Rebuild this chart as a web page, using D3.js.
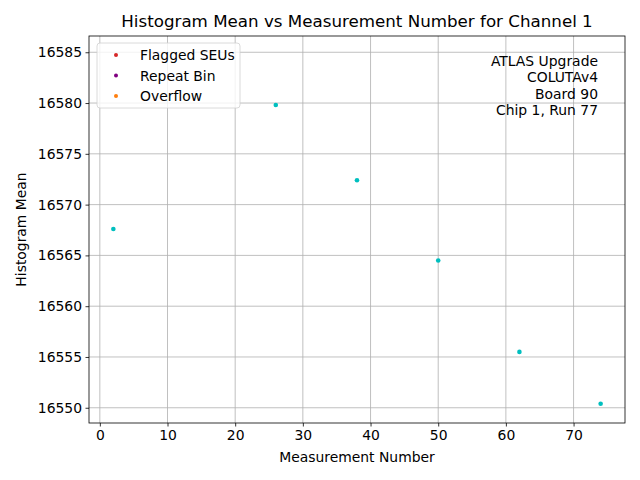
<!DOCTYPE html>
<html><head><meta charset="utf-8">
<script src="https://cdn.jsdelivr.net/npm/d3@7"></script>
<style>body{margin:0;background:#fff}svg{font-family:"DejaVu Sans",sans-serif}</style>
</head><body>
<svg id="c" width="640" height="480"></svg>
<script>
const measurement = [2, 26, 38, 50, 62, 74];
const histMean = [16567.6, 16579.8, 16572.4, 16564.5, 16555.5, 16550.4];
const xTicks = [0, 10, 20, 30, 40, 50, 60, 70];
const yTicks = [16550, 16555, 16560, 16565, 16570, 16575, 16580, 16585];
const legendLabels = ["Flagged SEUs", "Repeat Bin", "Overflow"];
const legendColors = ["#d62728", "#800080", "#ff7f0e"];
const infoLines = ["ATLAS Upgrade", "COLUTAv4", "Board 90", "Chip 1, Run 77"];

const L = 89, R = 625, T = 36, B = 423;
const svg = d3.select("#c");
const x = d3.scaleLinear().domain([-1.6, 77.6]).range([L, R]);
const y = d3.scaleLinear().domain([16548.5, 16586.6]).range([B, T]);

// grid
svg.append("g").selectAll("line").data(xTicks).join("line")
  .attr("x1", d => x(d)).attr("x2", d => x(d)).attr("y1", T).attr("y2", B)
  .attr("stroke", "#b0b0b0").attr("stroke-width", 0.8);
svg.append("g").selectAll("line").data(yTicks).join("line")
  .attr("y1", d => y(d)).attr("y2", d => y(d)).attr("x1", L).attr("x2", R)
  .attr("stroke", "#b0b0b0").attr("stroke-width", 0.8);

// axes
const xa = svg.append("g").attr("transform", `translate(0,${B})`)
  .call(d3.axisBottom(x).tickValues(xTicks).tickSize(3.5).tickPadding(3.5).tickFormat(d3.format("d")));
const ya = svg.append("g").attr("transform", `translate(${L},0)`)
  .call(d3.axisLeft(y).tickValues(yTicks).tickSize(3.5).tickPadding(3.5).tickFormat(d3.format("d")));
[xa, ya].forEach(a => {
  a.select(".domain").remove();
  a.selectAll("text").attr("font-size", 13.9).attr("fill", "#000").attr("font-family", "DejaVu Sans");
  a.selectAll("line").attr("stroke", "#000").attr("stroke-width", 0.8);
});
svg.append("rect").attr("x", L).attr("y", T).attr("width", R - L).attr("height", B - T)
  .attr("fill", "none").attr("stroke", "#000").attr("stroke-width", 0.8);

// points
svg.append("g").selectAll("circle").data(measurement).join("circle")
  .attr("cx", d => x(d)).attr("cy", (d, i) => y(histMean[i])).attr("r", 2.3)
  .attr("fill", "#00bfbf");

// labels
svg.append("text").attr("x", (L + R) / 2).attr("y", 27).attr("text-anchor", "middle")
  .attr("font-size", 16.7).text("Histogram Mean vs Measurement Number for Channel 1");
svg.append("text").attr("x", (L + R) / 2).attr("y", 462).attr("text-anchor", "middle")
  .attr("font-size", 13.9).text("Measurement Number");
svg.append("text").attr("transform", `translate(26,${(T + B) / 2}) rotate(-90)`)
  .attr("text-anchor", "middle").attr("font-size", 13.9).text("Histogram Mean");

// legend
const lg = svg.append("g");
lg.append("rect").attr("x", 97).attr("y", 43).attr("width", 143).attr("height", 65)
  .attr("rx", 3).attr("fill", "#fff").attr("fill-opacity", 0.8).attr("stroke", "#d0d0d0").attr("stroke-width", 0.8);
lg.selectAll("circle").data(legendLabels).join("circle")
  .attr("cx", 116).attr("cy", (d, i) => 55 + i * 20.5).attr("r", 2)
  .attr("fill", (d, i) => legendColors[i]);
lg.selectAll("text").data(legendLabels).join("text")
  .attr("x", 140).attr("y", (d, i) => 60 + i * 20.5).attr("font-size", 13.9).text(d => d);

// info
svg.append("g").selectAll("text").data(infoLines).join("text")
  .attr("x", 598).attr("y", (d, i) => 66 + i * 16.3).attr("text-anchor", "end")
  .attr("font-size", 13.9).text(d => d);
</script>
</body></html>
